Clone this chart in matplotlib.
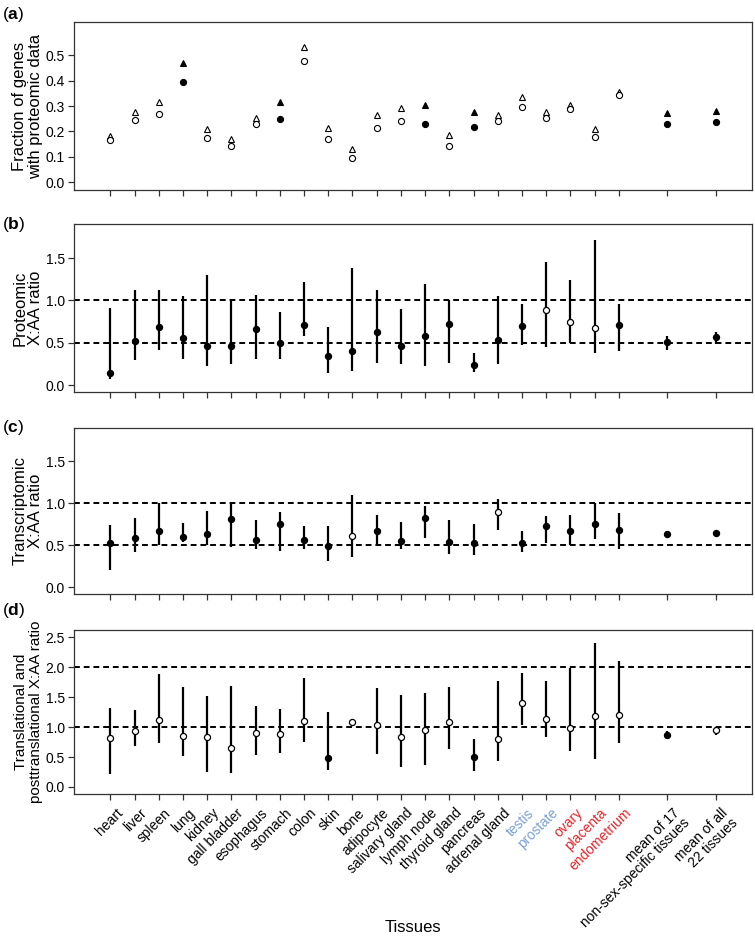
import matplotlib
matplotlib.use("Agg")
import matplotlib.pyplot as plt
import matplotlib.transforms as mtransforms
import numpy as np

plt.rcParams['font.family'] = ['Liberation Sans', 'DejaVu Sans']
plt.rcParams['mathtext.fontset'] = 'custom'
plt.rcParams['mathtext.rm'] = 'Liberation Sans'
plt.rcParams['mathtext.bf'] = 'Liberation Sans:bold'

# ---- data ----
tissues = ["heart", "liver", "spleen", "lung", "kidney", "gall bladder", "esophagus",
           "stomach", "colon", "skin", "bone", "adipocyte", "salivary gland",
           "lymph node", "thyroid gland", "pancreas", "adrenal gland", "testis",
           "prostate", "ovary", "placenta", "endometrium",
           "mean of 17\nnon-sex-specific tissues", "mean of all\n22 tissues"]
xpos = list(range(1, 23)) + [24, 26]
male = ["testis", "prostate"]
female = ["ovary", "placenta", "endometrium"]

# (a) fraction of genes with proteomic data: triangles (upper) and circles (lower)
frac_tri = [0.183, 0.275, 0.314, 0.470, 0.211, 0.169, 0.253, 0.315, 0.533, 0.215, 0.132,
            0.263, 0.294, 0.304, 0.188, 0.276, 0.266, 0.335, 0.276, 0.304, 0.208, 0.356,
            0.274, 0.279]
frac_circ = [0.166, 0.245, 0.267, 0.395, 0.175, 0.144, 0.228, 0.247, 0.476, 0.171, 0.097,
             0.215, 0.241, 0.228, 0.143, 0.217, 0.241, 0.296, 0.253, 0.289, 0.179, 0.342,
             0.229, 0.238]
frac_filled = ["lung", "stomach", "lymph node", "pancreas",
               "mean of 17\nnon-sex-specific tissues", "mean of all\n22 tissues"]

# (b) proteomic X:AA ratio
prot_val = [0.141, 0.522, 0.687, 0.558, 0.460, 0.463, 0.664, 0.499, 0.711, 0.342, 0.405,
            0.625, 0.463, 0.577, 0.727, 0.236, 0.534, 0.695, 0.892, 0.746, 0.676, 0.715,
            0.507, 0.566]
prot_lo = [0.075, 0.295, 0.412, 0.314, 0.228, 0.255, 0.314, 0.314, 0.581, 0.141, 0.165,
           0.267, 0.247, 0.228, 0.267, 0.153, 0.247, 0.471, 0.456, 0.499, 0.381, 0.401,
           0.420, 0.491]
prot_hi = [0.907, 1.127, 1.127, 1.053, 1.300, 0.994, 1.068, 0.864, 1.218, 0.687, 1.379,
           1.119, 0.903, 1.198, 1.000, 0.385, 1.049, 0.962, 1.453, 1.237, 1.716, 0.958,
           0.581, 0.628]
prot_open = ["prostate", "ovary", "placenta"]

# (c) transcriptomic X:AA ratio
trans_val = [0.528, 0.587, 0.665, 0.602, 0.638, 0.807, 0.567, 0.756, 0.567, 0.492, 0.606,
             0.665, 0.547, 0.819, 0.543, 0.520, 0.902, 0.531, 0.724, 0.673, 0.748, 0.685,
             0.634, 0.646]
trans_lo = [0.205, 0.421, 0.500, 0.539, 0.500, 0.480, 0.460, 0.433, 0.457, 0.315, 0.354,
            0.508, 0.460, 0.587, 0.398, 0.386, 0.677, 0.413, 0.520, 0.500, 0.571, 0.449,
            0.604, 0.626]
trans_hi = [0.740, 0.819, 1.000, 0.760, 0.913, 0.988, 0.800, 0.898, 0.732, 0.724, 1.094,
            0.858, 0.772, 0.972, 0.800, 0.756, 1.047, 0.673, 0.843, 0.866, 1.004, 0.890,
            0.664, 0.666]
trans_open = ["bone", "adrenal gland"]

# (d) translational and posttranslational X:AA ratio
post_val = [0.817, 0.928, 1.122, 0.850, 0.839, 0.650, 0.900, 0.878, 1.094, 0.489, 1.078,
            1.033, 0.839, 0.950, 1.089, 0.506, 0.800, 1.400, 1.128, 0.978, 1.178, 1.200,
            0.872, 0.944]
post_lo = [0.222, 0.689, 0.728, 0.511, 0.250, 0.233, 0.533, 0.572, 0.750, 0.278, 1.060,
           0.544, 0.339, 0.367, 0.628, 0.272, 0.439, 1.039, 0.839, 0.606, 0.467, 0.728,
           0.794, 0.867]
post_hi = [1.320, 1.283, 1.894, 1.672, 1.522, 1.683, 1.344, 1.306, 1.817, 1.250, 1.095,
           1.656, 1.528, 1.561, 1.667, 0.794, 1.767, 1.911, 1.767, 1.989, 2.400, 2.100,
           0.933, 1.006]
post_filled = ["skin", "pancreas", "mean of 17\nnon-sex-specific tissues"]

BOX = "#333333"


def style(ax, ylim, yticks, ylabel, lsize=12):
	ax.set_xlim(-0.5, 27.5)
	ax.set_ylim(*ylim)
	ax.set_yticks(yticks)
	ax.set_yticklabels(["%.1f" % t for t in yticks], fontsize=10)
	ax.set_xticks(xpos)
	ax.set_xticklabels([])
	ax.tick_params(direction='out', length=4.5, width=0.9, color=BOX, pad=2)
	for s in ax.spines.values():
		s.set_color(BOX)
		s.set_linewidth(0.9)
	ax.set_ylabel(ylabel, fontsize=lsize, linespacing=1.05)
	ax.yaxis.set_label_coords(-0.046, 0.5)


def ratio_panel(ax, vals, lo, hi, hollow, hlines):
	for h in hlines:
		ax.axhline(h, color='k', lw=1.4, ls=(0, (3, 2)), zorder=1)
	ax.vlines(xpos, lo, hi, color='k', lw=1.6, zorder=2)
	for t, x, v in zip(tissues, xpos, vals):
		fc = 'white' if t in hollow else 'k'
		ax.plot(x, v, 'o', ms=4.4, mfc=fc, mec='k', mew=0.9, zorder=3)


fig = plt.figure(figsize=(7.55, 9.36), dpi=100)
L, W = 0.098, 0.898
ax_a = fig.add_axes([L, 0.797, W, 0.1795])
ax_b = fig.add_axes([L, 0.581, W, 0.1795])
ax_c = fig.add_axes([L, 0.3654, W, 0.1774])
ax_d = fig.add_axes([L, 0.1517, W, 0.1752])

# (a)
for t, x, yt, yc in zip(tissues, xpos, frac_tri, frac_circ):
	if t in frac_filled:
		ax_a.plot(x, yt, '^', ms=5, mfc='k', mec='k', mew=0.8)
		ax_a.plot(x, yc, 'o', ms=4.4, mfc='k', mec='k', mew=0.8)
	else:
		ax_a.plot(x, yt, '^', ms=5, mfc='white', mec='k', mew=0.8)
		ax_a.plot(x, yc, 'o', ms=4.4, mfc='white', mec='k', mew=0.8)
style(ax_a, (-0.03, 0.63), np.arange(0, 0.51, 0.1), "Fraction of genes\nwith proteomic data")

# (b)
ratio_panel(ax_b, prot_val, prot_lo, prot_hi, prot_open, [0.5, 1.0])
style(ax_b, (-0.083, 1.9), [0, 0.5, 1.0, 1.5], "Proteomic\nX:AA ratio")

# (c)
ratio_panel(ax_c, trans_val, trans_lo, trans_hi, trans_open, [0.5, 1.0])
style(ax_c, (-0.083, 1.9), [0, 0.5, 1.0, 1.5], "Transcriptomic\nX:AA ratio")

# (d)
post_open = [t for t in tissues if t not in post_filled]
ratio_panel(ax_d, post_val, post_lo, post_hi, post_open, [1.0, 2.0])
style(ax_d, (-0.117, 2.62), [0, 0.5, 1.0, 1.5, 2.0, 2.5],
      "Translational and\nposttranslational X:AA ratio", lsize=11)

# rotated tissue labels under (d)
off = mtransforms.ScaledTranslation(5 / 100, -12 / 100, fig.dpi_scale_trans)
for t, x in zip(tissues, xpos):
	col = 'k'
	if t in male:
		col = '#7b9fd4'
	elif t in female:
		col = '#e3262b'
	ax_d.text(x, 0, t, transform=ax_d.get_xaxis_transform() + off, rotation=45,
	          rotation_mode='anchor', ha='right', va='top', fontsize=10, color=col,
	          linespacing=1.0)

fig.text((74 + 752) / 2 / 755, 1 - 927 / 936, "Tissues", ha='center', va='center', fontsize=12)

# panel letters
for lab, yy in zip("abcd", [15, 224, 428, 610]):
	fig.text(2 / 755, 1 - yy / 936, r"($\mathbf{%s}$)" % lab, ha='left', va='center', fontsize=12.5)

fig.savefig("out.png", dpi=100)
